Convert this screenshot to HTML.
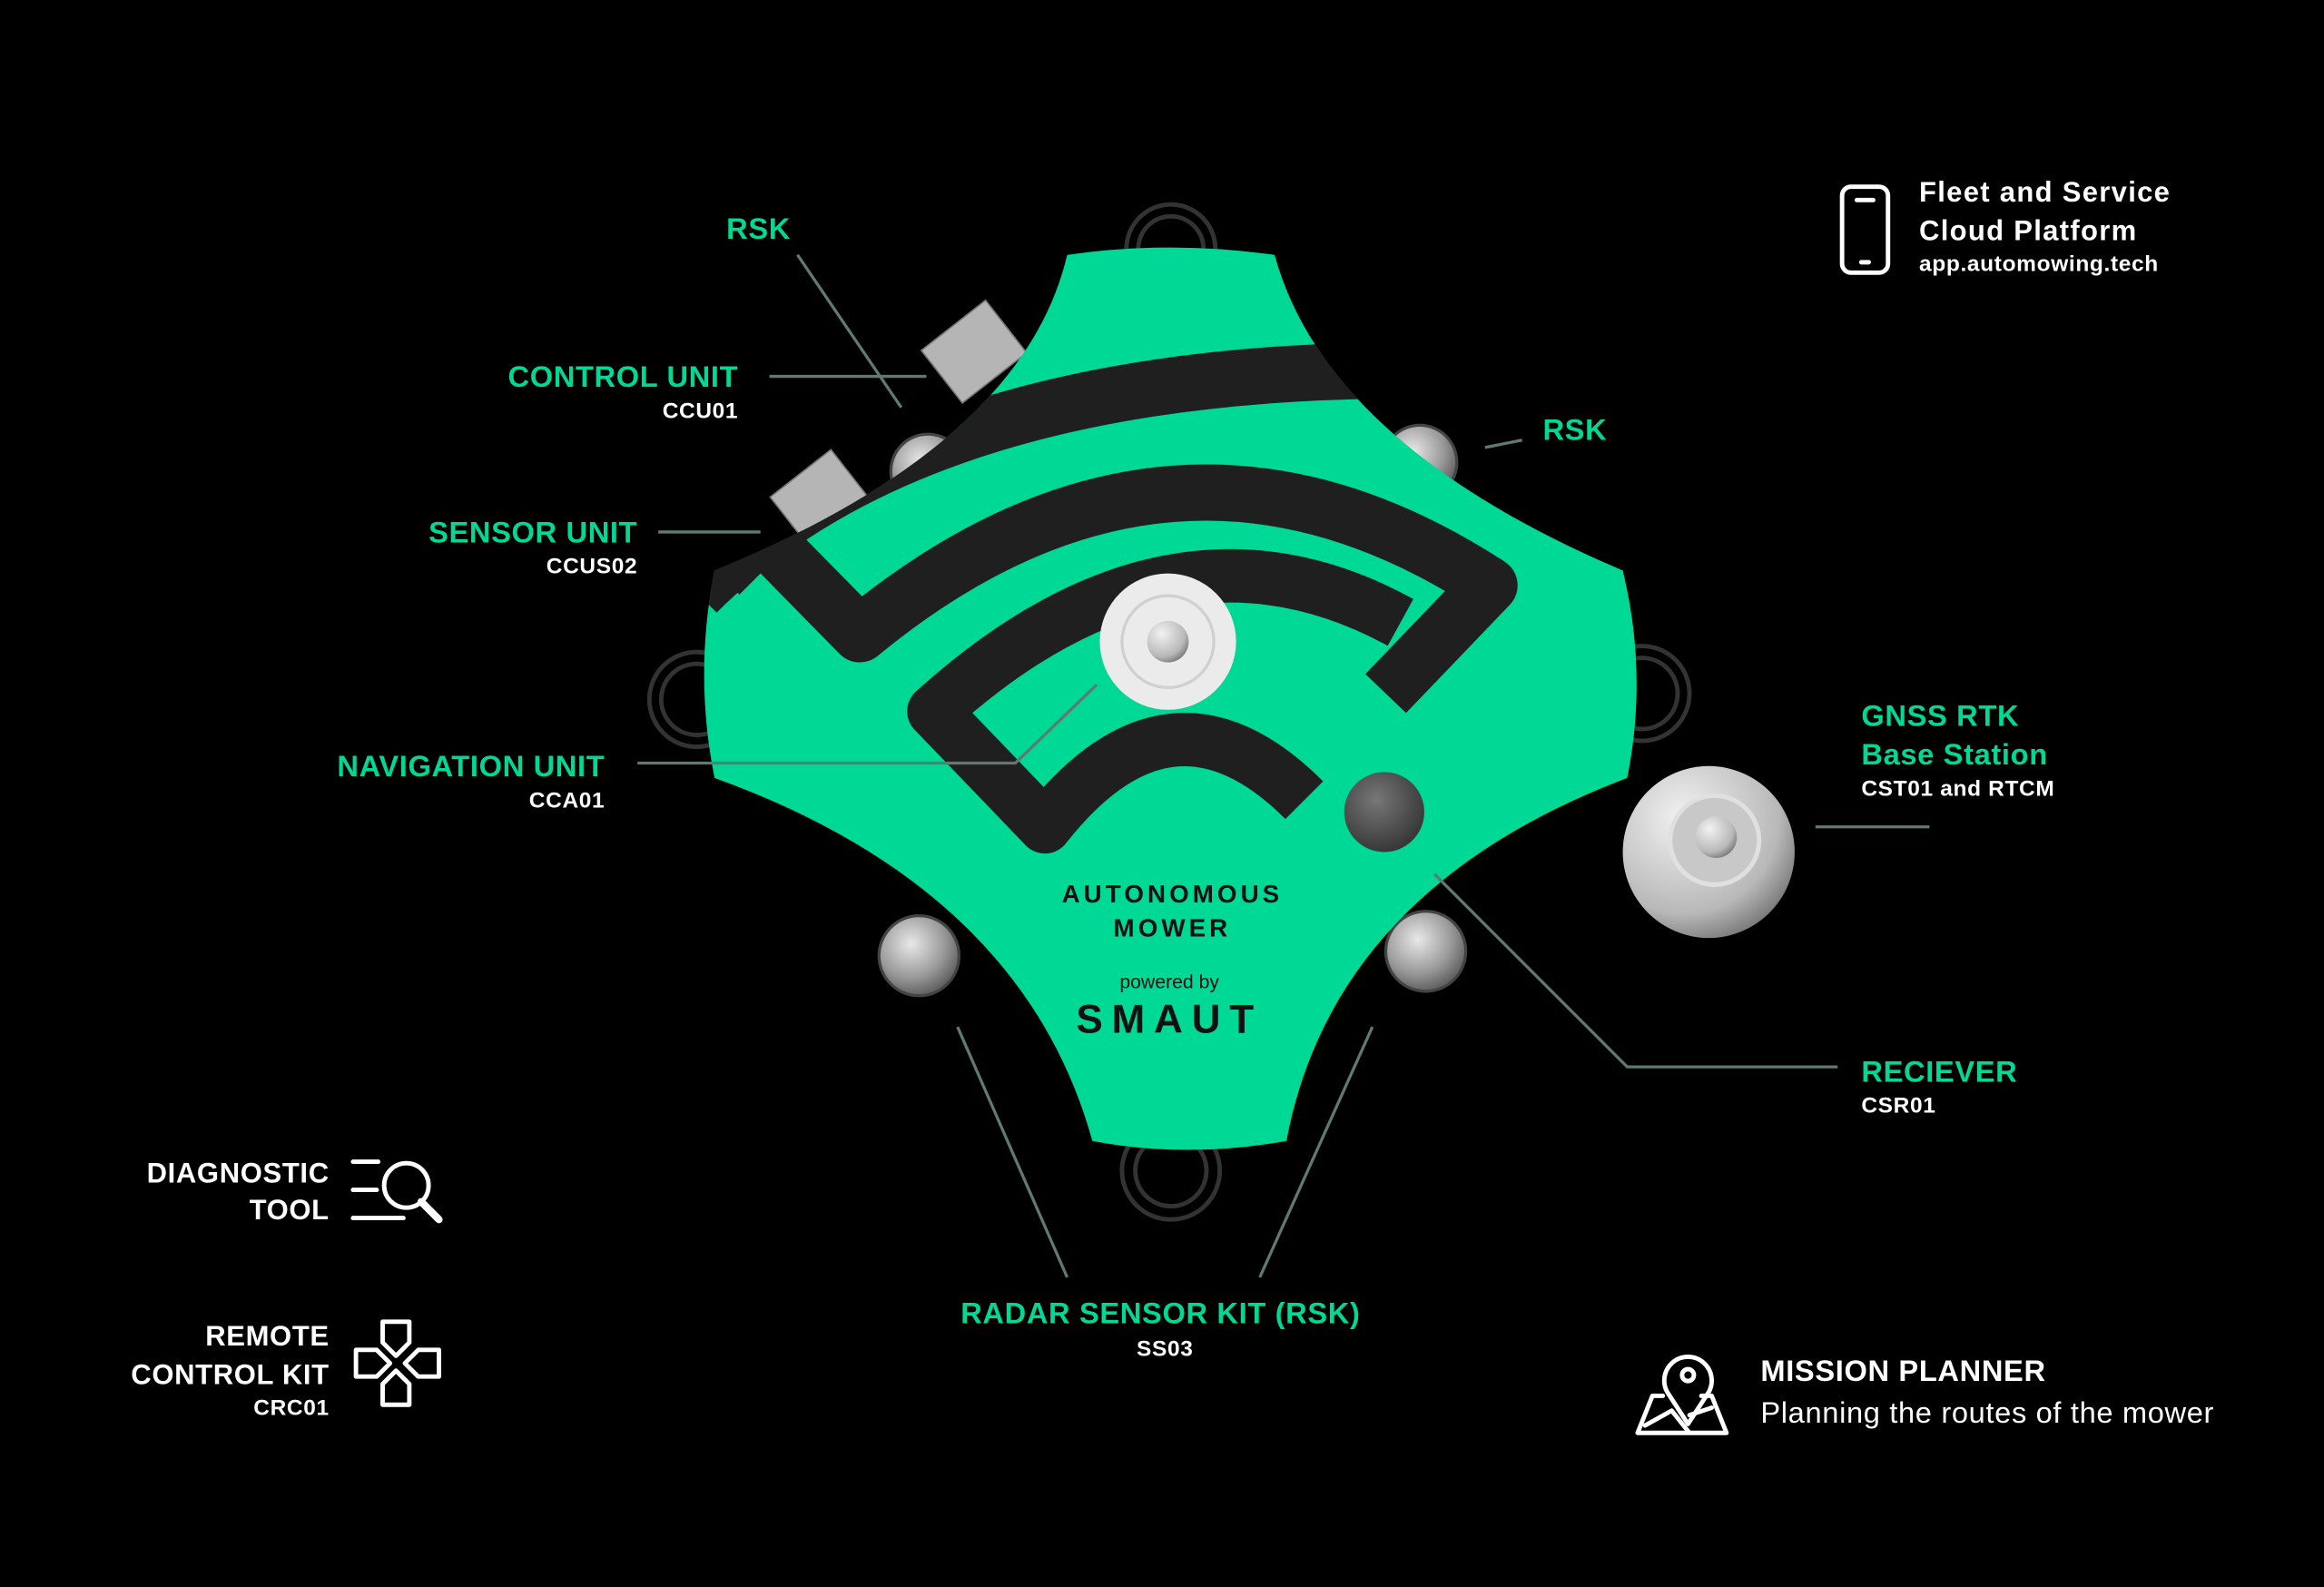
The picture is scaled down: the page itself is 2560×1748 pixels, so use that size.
<!DOCTYPE html>
<html><head><meta charset="utf-8"><style>
html,body{margin:0;padding:0;background:#000;}
svg{display:block;}
text{font-family:"Liberation Sans",sans-serif;font-weight:bold;}
.n{font-weight:normal;}
</style></head><body>
<svg width="2560" height="1748" viewBox="0 0 1568 1071" xmlns="http://www.w3.org/2000/svg">
<defs>
<clipPath id="body"><path d="M720,172 Q790,162 860,172 Q895,300 1095,385 Q1112,455 1098,525 Q900,600 868,770 Q800,782 737,770 Q690,600 482,525 Q468,455 482,385 Q690,300 720,172 Z"/></clipPath>
<radialGradient id="dome" cx="0.4" cy="0.35" r="0.7"><stop offset="0" stop-color="#e8e8e8"/><stop offset="0.6" stop-color="#9a9a9a"/><stop offset="1" stop-color="#555"/></radialGradient>
<radialGradient id="ball" cx="0.35" cy="0.3" r="0.8"><stop offset="0" stop-color="#f2f2f2"/><stop offset="0.7" stop-color="#b8b8b8"/><stop offset="1" stop-color="#6a6a6a"/></radialGradient>
<radialGradient id="rec" cx="0.4" cy="0.35" r="0.7"><stop offset="0" stop-color="#777"/><stop offset="1" stop-color="#333"/></radialGradient>
</defs>
<rect width="1568" height="1071" fill="#000"/>
<g fill="none" stroke="#333" stroke-width="3">
<circle cx="790" cy="168" r="30"/><circle cx="790" cy="168" r="22"/>
<circle cx="790" cy="790" r="33"/><circle cx="790" cy="790" r="24"/>
<circle cx="470" cy="472" r="32"/><circle cx="470" cy="472" r="24"/>
<circle cx="1108" cy="468" r="32"/><circle cx="1108" cy="468" r="24"/>
</g>
<g stroke="#444" stroke-width="2">
<circle cx="620" cy="645" r="27" fill="url(#dome)"/>
<circle cx="962" cy="642" r="27" fill="url(#dome)"/>
<circle cx="626" cy="318" r="25" fill="url(#dome)"/>
<circle cx="958" cy="312" r="25" fill="url(#dome)"/>
</g>
<g fill="#b5b5b5" stroke="#777" stroke-width="1">
<rect x="630" y="215" width="55" height="45" transform="rotate(-38 657 238)"/>
<rect x="527" y="315" width="52" height="42" transform="rotate(-38 553 336)"/>
</g>
<path d="M720,172 Q790,162 860,172 Q895,300 1095,385 Q1112,455 1098,525 Q900,600 868,770 Q800,782 737,770 Q690,600 482,525 Q468,455 482,385 Q690,300 720,172 Z" fill="#00d896"/>
<g clip-path="url(#body)" fill="none" stroke="#1f1f1f" stroke-linejoin="round">
<path d="M470,400 Q620,250 950,250" stroke-width="38"/>
<path d="M470,330 L520,380" stroke-width="60"/>
<path d="M525,372 L580,428 Q790,255 1005,395 L935,468" stroke-width="38"/>
<path d="M945,420 Q790,335 630,480 L705,558 Q790,450 880,540" stroke-width="36"/>
</g>
<circle cx="788" cy="433" r="46" fill="#ebebeb"/>
<circle cx="788" cy="433" r="31" fill="none" stroke="#d0d0d0" stroke-width="2"/>
<circle cx="788" cy="433" r="14" fill="url(#ball)"/>
<circle cx="934" cy="548" r="27" fill="url(#rec)"/>
<circle cx="1153" cy="575" r="58" fill="url(#ball)"/>
<circle cx="1157" cy="567" r="30" fill="#c8c8c8" stroke="#e0e0e0" stroke-width="3"/>
<circle cx="1158" cy="565" r="14" fill="url(#ball)"/>
<text x="791" y="609" font-size="17" text-anchor="middle" fill="#111" letter-spacing="2.5">AUTONOMOUS</text>
<text x="791" y="632" font-size="17" text-anchor="middle" fill="#111" letter-spacing="2.5">MOWER</text>
<text x="789" y="667" font-size="13" text-anchor="middle" fill="#111" class="n">powered by</text>
<text x="789" y="697" font-size="27" text-anchor="middle" fill="#111" letter-spacing="6">SMAUT</text>
<g stroke="#5f7a70" stroke-width="2" fill="none">
<path d="M538,172 L608,275"/>
<path d="M519,254 L625,254"/>
<path d="M444,359 L513,359"/>
<path d="M430,515 L685,515 L740,462"/>
<path d="M1002,302 L1027,297"/>
<path d="M1225,558 L1302,558"/>
<path d="M968,590 L1098,720 L1240,720"/>
<path d="M646,693 L720,862"/>
<path d="M926,693 L850,862"/>
</g>
<g fill="#00d896" font-size="20" letter-spacing="0.4">
<text x="490" y="161">RSK</text>
<text x="498" y="261" text-anchor="end">CONTROL UNIT</text>
<text x="430" y="366" text-anchor="end">SENSOR UNIT</text>
<text x="408" y="524" text-anchor="end">NAVIGATION UNIT</text>
<text x="1041" y="297">RSK</text>
<text x="1256" y="490">GNSS RTK</text>
<text x="1256" y="516">Base Station</text>
<text x="1256" y="730">RECIEVER</text>
<text x="783" y="893" text-anchor="middle">RADAR SENSOR KIT (RSK)</text>
</g>
<g fill="#fff" font-size="15" letter-spacing="0.4">
<text x="498" y="282" text-anchor="end">CCU01</text>
<text x="430" y="387" text-anchor="end">CCUS02</text>
<text x="408" y="545" text-anchor="end">CCA01</text>
<text x="1256" y="537">CST01 and RTCM</text>
<text x="1256" y="751">CSR01</text>
<text x="786" y="915" text-anchor="middle">SS03</text>
<text x="1295" y="136" font-size="19" letter-spacing="0.8">Fleet and Service</text>
<text x="1295" y="162" font-size="19" letter-spacing="0.8">Cloud Platform</text>
<text x="1295" y="183">app.automowing.tech</text>
<text x="222" y="798" font-size="19" text-anchor="end">DIAGNOSTIC</text>
<text x="222" y="823" font-size="19" text-anchor="end">TOOL</text>
<text x="222" y="908" font-size="19" text-anchor="end">REMOTE</text>
<text x="222" y="934" font-size="19" text-anchor="end">CONTROL KIT</text>
<text x="222" y="955" text-anchor="end">CRC01</text>
<text x="1188" y="932" font-size="20">MISSION PLANNER</text>
<text x="1188" y="960" font-size="20" class="n">Planning the routes of the mower</text>
</g>
<g stroke="#fff" stroke-width="3" fill="none" stroke-linecap="round" stroke-linejoin="round">
<rect x="1243" y="126" width="31" height="58" rx="6"/>
<line x1="1253" y1="135" x2="1264" y2="135"/><line x1="1256" y1="177" x2="1261" y2="177"/>
<line x1="238" y1="784" x2="255" y2="784"/><line x1="238" y1="803" x2="254" y2="803"/><line x1="238" y1="822" x2="272" y2="822"/>
<circle cx="274" cy="800" r="15"/><line x1="284" y1="811" x2="296" y2="823" stroke-width="5"/>
<path d="M258,892 h18 v14 l-9,9 l-9,-9 z"/>
<path d="M258,948 h18 v-14 l-9,-9 l-9,9 z"/>
<path d="M240,911 v18 h14 l9,-9 l-9,-9 z"/>
<path d="M296,911 v18 h-14 l-9,-9 l9,-9 z"/>
<path d="M1139,961 l-13,-20 a16,16 0 1 1 26,0 z"/>
<circle cx="1139" cy="928" r="4"/>
<path d="M1122,942 h-7 l-10,25 h60 l-10,-25 h-7 M1110,962 l18,-10 l12,15 M1140,955 l15,-5"/>
</g>
</svg>
</body></html>
